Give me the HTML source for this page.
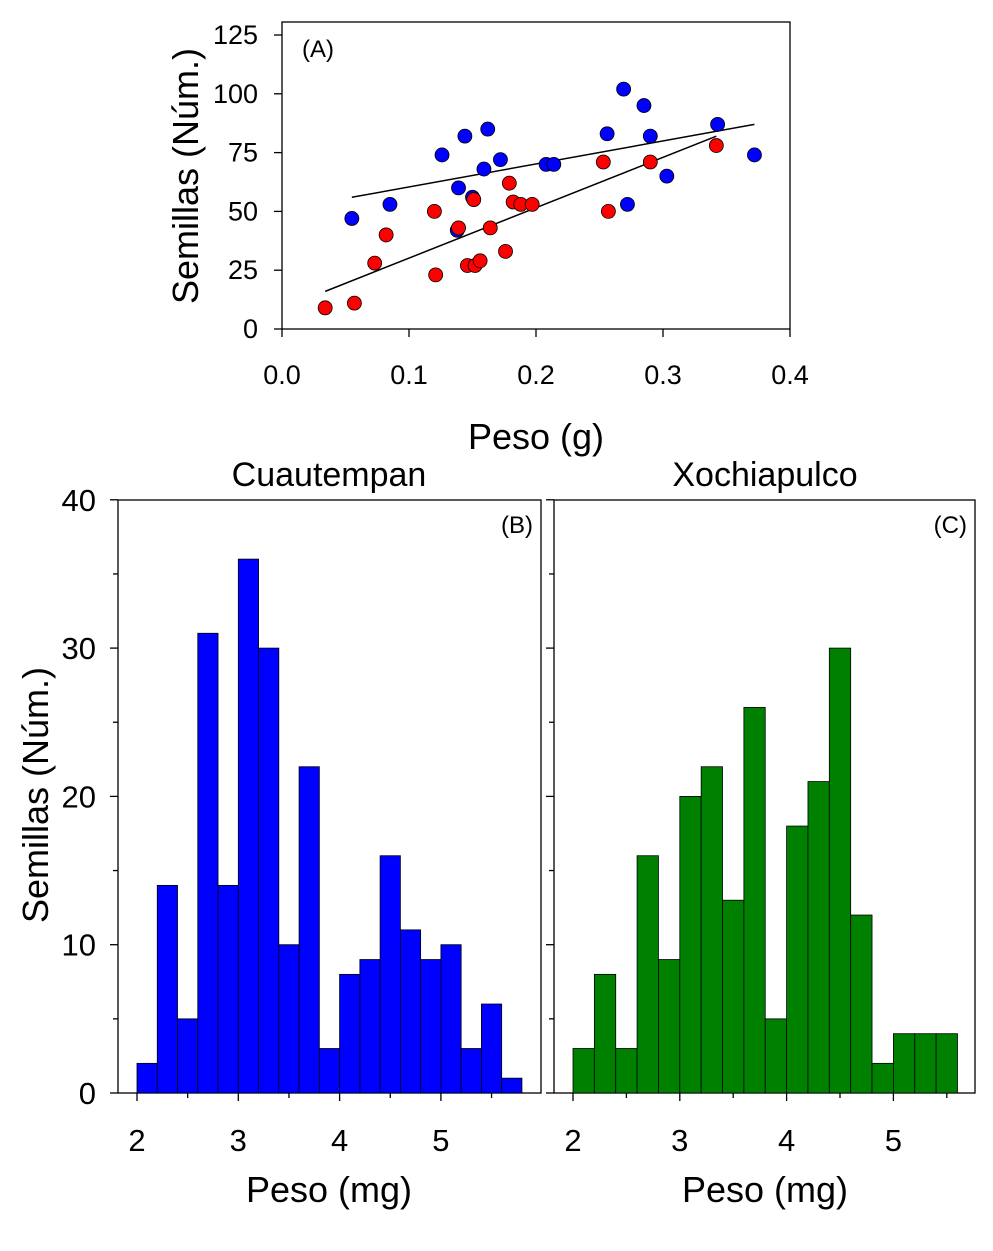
<!DOCTYPE html>
<html><head><meta charset="utf-8"><style>
html,body{margin:0;padding:0;background:#fff;}
svg{display:block;font-family:"Liberation Sans Narrow","Liberation Sans",sans-serif;}
</style></head><body>
<svg id="chart" width="993" height="1251" viewBox="0 0 993 1251" xmlns="http://www.w3.org/2000/svg"></svg>
<script>
// ---- Panel A data ----
const blueX=[0.055,0.085,0.126,0.138,0.139,0.144,0.150,0.159,0.162,0.172,0.208,0.214,0.256,0.269,0.272,0.285,0.290,0.303,0.343,0.372];
const blueY=[47,53,74,42,60,82,56,68,85,72,70,70,83,102,53,95,82,65,87,74];
const redX=[0.034,0.057,0.073,0.082,0.120,0.121,0.139,0.146,0.151,0.152,0.156,0.164,0.176,0.179,0.182,0.188,0.197,0.253,0.257,0.290,0.342];
const redY=[9,11,28,40,50,23,43,27,55,27,29,43,33,62,54,53,53,71,50,71,78];
const blueFitX=[0.055,0.372], blueFitY=[56,87];
const redFitX=[0.034,0.342], redFitY=[16,82];
const aXTicks=[0,0.1,0.2,0.3,0.4], aXLabels=["0.0","0.1","0.2","0.3","0.4"];
const aYTicks=[0,25,50,75,100,125];
// ---- Panel B/C data ----
const bCounts=[2,14,5,31,14,36,30,10,22,3,8,9,16,11,9,10,3,6,1];
const cCounts=[3,8,3,16,9,20,22,13,26,5,18,21,30,12,2,4,4,4];
const binStart=2.0, binWidth=0.2;
const hXTicks=[2,3,4,5];
const hYTicks=[0,10,20,30,40];

const NS="http://www.w3.org/2000/svg";
const svg=document.getElementById('chart');
function el(tag,attrs,parent,text){const e=document.createElementNS(NS,tag);for(const k in attrs)e.setAttribute(k,attrs[k]);if(text!==undefined)e.textContent=text;(parent||svg).appendChild(e);return e;}

// Panel A
const gA=el('g',{});


const ax=v=>282+v*1270, ay=v=>329-v*2.352;
const frameA=el('rect',{x:282,y:22,width:508,height:307,fill:'none',stroke:'#000','stroke-width':1.3},gA);


aXTicks.forEach((t,i)=>{
  el('line',{x1:ax(t),x2:ax(t),y1:329,y2:337,stroke:'#000','stroke-width':1.3},gA);
  const tx=el('text',{x:ax(t),y:384,'font-size':27,'text-anchor':'middle'},gA,aXLabels[i]);
  
  
});
aYTicks.forEach(t=>{
  el('line',{x1:274,x2:282,y1:ay(t),y2:ay(t),stroke:'#000','stroke-width':1.3},gA);
  const tx=el('text',{x:258,y:ay(t)+9,'font-size':27,'text-anchor':'end'},gA,String(t));
  
  
});
[[blueFitX,blueFitY,'blue'],[redFitX,redFitY,'red']].forEach(([xs,ys,n])=>{
  const l=el('line',{x1:ax(xs[0]),y1:ay(ys[0]),x2:ax(xs[1]),y2:ay(ys[1]),stroke:'#000','stroke-width':1.5},gA);
  
  
});
blueX.forEach((x,i)=>{
  const c=el('circle',{cx:ax(x),cy:ay(blueY[i]),r:7,fill:'#0000ff',stroke:'#000','stroke-width':0.8},gA);
  
  
});
redX.forEach((x,i)=>{
  const c=el('circle',{cx:ax(x),cy:ay(redY[i]),r:7,fill:'#ff0000',stroke:'#000','stroke-width':0.8},gA);
  
  
});
let t=el('text',{x:302,y:57,'font-size':24},gA,'(A)');

t=el('text',{x:536,y:449,'font-size':36,'text-anchor':'middle'},gA,'Peso (g)');

t=el('text',{x:0,y:0,'font-size':36,'text-anchor':'middle',transform:'translate(198,176) rotate(-90)'},gA,'Semillas (Núm.)');


// Histograms
function hist(name,counts,x0,x1,unitPx,x2,color,label,title,showYLabels,titleX,xTitleX){
  const g=el('g',{});
  
  
  const hx=v=>x2+(v-2)*unitPx, hy=v=>1093-v*14.83;
  const fr=el('rect',{x:x0,y:500,width:x1-x0,height:593,fill:'none',stroke:'#000','stroke-width':1.3},g);
  
  
  counts.forEach((c,i)=>{
    const a=binStart+i*binWidth;
    const r=el('rect',{x:hx(a),y:hy(c),width:hx(a+binWidth)-hx(a),height:hy(0)-hy(c),fill:color,stroke:'#000','stroke-width':0.8},g);
    
    
  });
  for(let v=0;v<=40;v+=5){
    const len=v%10===0?8:5;
    el('line',{x1:x0-len,x2:x0,y1:hy(v),y2:hy(v),stroke:'#000','stroke-width':1.3},g);
  }
  if(showYLabels) hYTicks.forEach(v=>{
    const tx=el('text',{x:x0-22,y:hy(v)+11,'font-size':31,'text-anchor':'end'},g,String(v));
    
    
  });
  for(let v=2;v<=5.5;v+=0.5){
    const len=Number.isInteger(v)?8:5;
    el('line',{x1:hx(v),x2:hx(v),y1:1093,y2:1093+len,stroke:'#000','stroke-width':1.3},g);
  }
  hXTicks.forEach(v=>{
    const tx=el('text',{x:hx(v),y:1151,'font-size':31,'text-anchor':'middle'},g,String(v));
    
    
  });
  let tt=el('text',{x:x1-8,y:533,'font-size':24,'text-anchor':'end'},g,label);
  
  tt=el('text',{x:titleX,y:486,'font-size':34,'text-anchor':'middle'},g,title);
  
  tt=el('text',{x:xTitleX,y:1202,'font-size':36,'text-anchor':'middle'},g,'Peso (mg)');
  
}
hist('panel-b-histogram',bCounts,118,541,101.3,137,'#0000ff','(B)','Cuautempan',true,329,329);
hist('panel-c-histogram',cCounts,554,975,106.8,573,'#008000','(C)','Xochiapulco',false,765,765);
t=el('text',{x:0,y:0,'font-size':36,'text-anchor':'middle',transform:'translate(48,795) rotate(-90)'},svg,'Semillas (Núm.)');

</script>
</body></html>
